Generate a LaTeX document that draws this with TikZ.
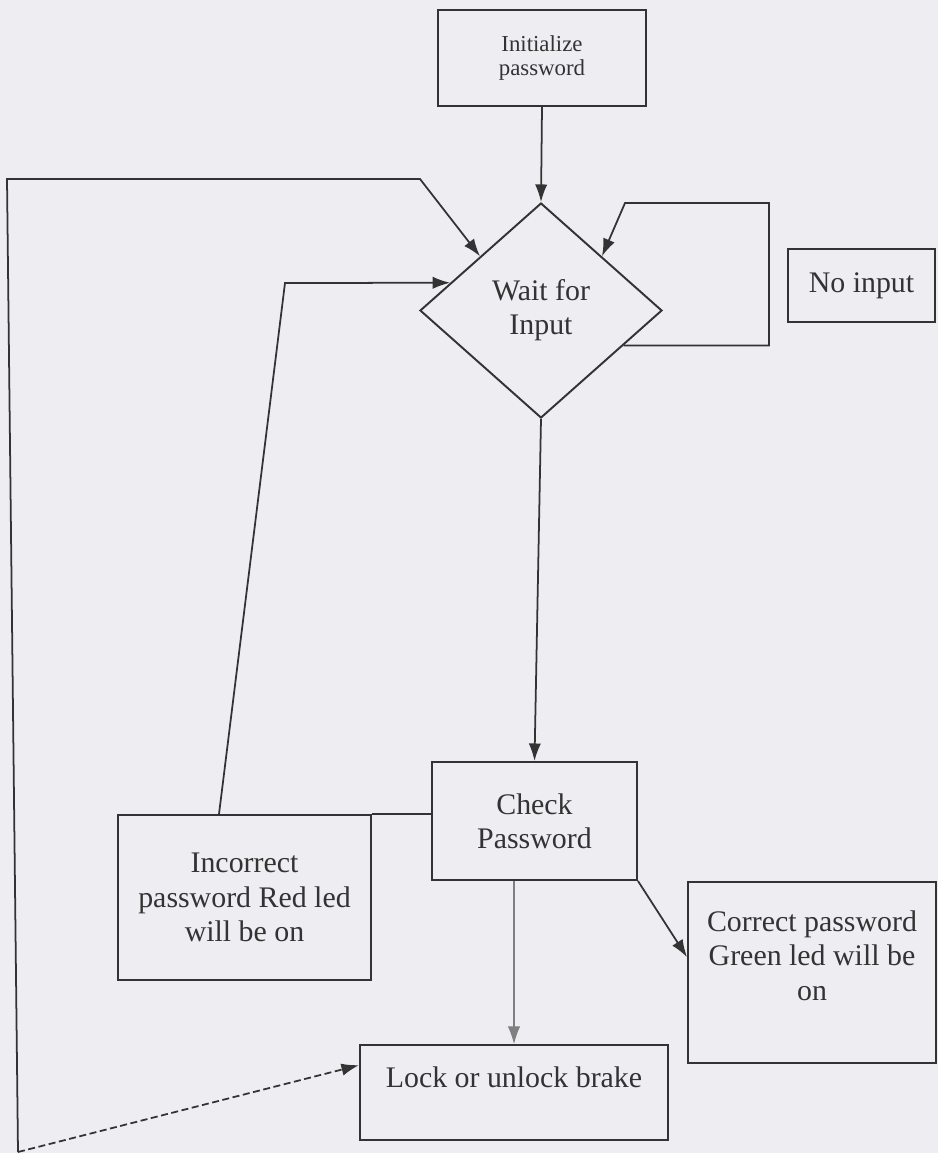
\documentclass[tikz,border=0pt]{standalone}
\usepackage{fontspec}
\setmainfont{Liberation Serif}
\usetikzlibrary{shapes.geometric,calc,arrows.meta}
\definecolor{paper}{HTML}{EEEEF2}
\definecolor{ink}{HTML}{333333}

\begin{document}
\begin{tikzpicture}[x=0.2mm,y=-0.2mm, >={Latex[length=10pt,width=7pt]}]
	\tikzstyle{box} = [draw=ink, line width=1.1pt, rectangle, align=center, text=ink, inner sep=2pt, font=\fontsize{17}{19.5}\selectfont]
	\tikzstyle{wire} = [draw=ink, line width=1pt]

	\fill[paper] (0,0) rectangle (938,1153);
	\useasboundingbox (0,0) rectangle (938,1153);

	\draw (542,58) node[box, minimum width=41.6mm, minimum height=19.2mm, font=\fontsize{13}{14}\selectfont] (init) {Initialize\\password};
	\draw (541,310.5) node[box, diamond, minimum width=48.4mm, minimum height=43mm, inner sep=0pt] (wait) {Wait for\\Input};
	\draw (861.5,285.5) node[box, minimum width=29.4mm, minimum height=14.6mm] (noinput) {No input};

	\draw (534.5,821) node[box, minimum width=41mm, minimum height=23.6mm] (check) {Check\\Password};
	\draw (244.5,897.5) node[box, minimum width=50.6mm, minimum height=33mm] (incorrect) {Incorrect\\password Red led\\will be on};
	\draw (812,972.5) node[box, minimum width=49.6mm, minimum height=36.2mm] (correct) {Correct password\\Green led will be\\on\\\mbox{}};

	\draw (514,1092.5) node[box, minimum width=61.6mm, minimum height=19mm, text depth=18pt] (lock) {Lock or unlock brake};

	\coordinate (lb) at (18,1152);
	\coordinate (lt) at (7,179);
	\coordinate (ltr) at (420,179);
	\coordinate (ibend) at (285,283);
	\coordinate (nr) at (769,203);
	\coordinate (nl) at (625,203);

	\draw[->, wire] (init.south) -- (wait.north);
	\draw[->, wire] (wait.south) -- (check.north);
	\draw[->, wire] (lb) -- (lt) -- (ltr) -- (wait.north west);
	\draw[->, wire, dash pattern=on 4pt off 2pt] (lb) -- (lock.170);
	\draw[->, wire] ($(incorrect.north west)!.4!(incorrect.north east)$) -- (ibend) -- (wait.163);
	\draw[->, wire] (wait.-23) -| (nr) -- (nl) -- (wait.north east);

	\draw[wire] (incorrect.north east) -- (incorrect.north east -| check.west);
	\draw[->, wire] (check.south east) -- (correct.173);
	\draw[->, wire, line width=0.6pt, draw=gray, fill=ink] (lock.north |- check.south) -- (lock.north);
\end{tikzpicture}
\end{document}
